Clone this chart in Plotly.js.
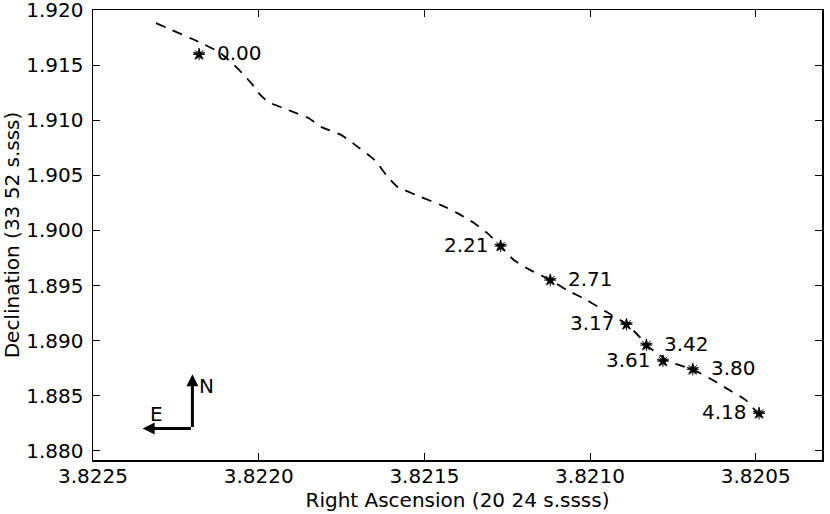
<!DOCTYPE html>
<html>
<head>
<meta charset="utf-8">
<script src="https://cdn.plot.ly/plotly-3.0.1.min.js"></script>
<style>
  html, body { margin: 0; padding: 0; background: #fff; }
  #chart { width: 830px; height: 514px; }
</style>
</head>
<body>
<div id="chart"></div>
<script>
// Observed positions (RA seconds, Dec seconds) and labels (time offsets)
const raPoints  = [3.82218, 3.82127, 3.82112, 3.82089, 3.82083, 3.82078, 3.82069, 3.82049];
const decPoints = [1.91598, 1.89858, 1.89549, 1.89147, 1.88959, 1.88814, 1.88739, 1.88339];
const pointLabels = ["0.00", "2.21", "2.71", "3.17", "3.42", "3.61", "3.80", "4.18"];
const labelSide   = ["right", "left", "right", "left", "right", "left", "right", "left"];

// Predicted track (dashed line)
const raTrack  = [3.82231, 3.82218, 3.82212, 3.82208, 3.82205, 3.82202, 3.82200, 3.82197, 3.82191, 3.82185,
                  3.82181, 3.82175, 3.82170, 3.82165, 3.82161, 3.82158, 3.82156, 3.82151, 3.82145, 3.82140,
                  3.82135, 3.82131, 3.82127, 3.82123, 3.82118, 3.82112, 3.82107, 3.82101, 3.82095, 3.82089,
                  3.82085, 3.82083, 3.82079, 3.82076, 3.82073, 3.82068, 3.82063, 3.82058, 3.82053, 3.82049, 3.82048];
const decTrack = [1.91882, 1.91710, 1.91619, 1.91519, 1.91428, 1.91328, 1.91247, 1.91165, 1.91092, 1.91020,
                  1.90938, 1.90865, 1.90756, 1.90638, 1.90484, 1.90393, 1.90366, 1.90303, 1.90230, 1.90157,
                  1.90067, 1.89976, 1.89858, 1.89731, 1.89640, 1.89549, 1.89459, 1.89368, 1.89259, 1.89150,
                  1.89032, 1.88959, 1.88869, 1.88805, 1.88778, 1.88723, 1.88642, 1.88551, 1.88460, 1.88324, 1.88288];

const xTicks = [3.8225, 3.8220, 3.8215, 3.8210, 3.8205];
const yTicks = [1.880, 1.885, 1.890, 1.895, 1.900, 1.905, 1.910, 1.915, 1.920];

// Compass (E / N arrows)
const compassCorner = [3.82220, 1.88203];
const compassNorth  = [3.82220, 1.88695];
const compassEast   = [3.82235, 1.88203];

const FONT = "DejaVu Sans, sans-serif";
const FS = 20;

const traces = [
  {
    x: raTrack, y: decTrack, type: "scatter", mode: "lines",
    line: { color: "black", width: 1.8, dash: "10px,8px", shape: "spline", smoothing: 0.6 },
    hoverinfo: "skip"
  },
  {
    x: raPoints, y: decPoints, type: "scatter", mode: "markers",
    marker: { symbol: "star", size: 9, color: "black", line: { color: "black", width: 0.5 } }
  },
  {
    x: raPoints, y: decPoints, type: "scatter", mode: "markers",
    marker: { symbol: "asterisk-open", size: 10, color: "black", line: { color: "black", width: 1 } }
  }
];

const annotations = pointLabels.map((t, i) => ({
  x: raPoints[i], y: decPoints[i], xref: "x", yref: "y",
  text: t, showarrow: false,
  xanchor: labelSide[i] === "right" ? "left" : "right",
  yanchor: "middle",
  xshift: labelSide[i] === "right" ? 16 : -10,
  yshift: 1,
  font: { family: FONT, size: FS, color: "black" }
}));

annotations.push({
  x: compassNorth[0], y: compassNorth[1], ax: compassCorner[0], ay: compassCorner[1],
  xref: "x", yref: "y", axref: "x", ayref: "y", text: "",
  showarrow: true, arrowhead: 2, arrowsize: 0.8, arrowwidth: 3, arrowcolor: "black"
});
annotations.push({
  x: compassEast[0], y: compassEast[1], ax: compassCorner[0], ay: compassCorner[1],
  xref: "x", yref: "y", axref: "x", ayref: "y", text: "",
  showarrow: true, arrowhead: 2, arrowsize: 0.8, arrowwidth: 3, arrowcolor: "black"
});
annotations.push({
  x: compassCorner[0], y: compassNorth[1], xref: "x", yref: "y", text: "N", showarrow: false,
  xanchor: "left", yanchor: "top", xshift: 5, yshift: 2,
  font: { family: FONT, size: FS, color: "black" }
});
annotations.push({
  x: compassEast[0], y: compassCorner[1], xref: "x", yref: "y", text: "E", showarrow: false,
  xanchor: "left", yanchor: "bottom", xshift: 5, yshift: 0,
  font: { family: FONT, size: FS, color: "black" }
});

const axisCommon = {
  showgrid: false, zeroline: false, showline: true, linecolor: "black", linewidth: 1.5,
  mirror: "ticks", ticks: "inside", ticklen: 7, tickwidth: 1, tickcolor: "black",
  ticklabeloverflow: "allow",
  tickfont: { family: FONT, size: FS, color: "black" }
};

const layout = {
  width: 830, height: 514,
  margin: { l: 93, r: 8, t: 10, b: 54, pad: 0 },
  paper_bgcolor: "white", plot_bgcolor: "white",
  showlegend: false,
  xaxis: Object.assign({}, axisCommon, {
    range: [3.8225, 3.8203], tickvals: xTicks, tickformat: ".4f",
    ticklabelstandoff: -3,
    title: { text: "Right Ascension (20 24 s.ssss)", font: { family: FONT, size: FS, color: "black" }, standoff: 0 }
  }),
  yaxis: Object.assign({}, axisCommon, {
    range: [1.87916, 1.92001], tickvals: yTicks, tickformat: ".3f",
    ticklabelstandoff: 4,
    title: { text: "Declination (33 52 s.sss)", font: { family: FONT, size: FS, color: "black" }, standoff: 2 }
  }),
  annotations: annotations
};

Plotly.newPlot("chart", traces, layout, { displayModeBar: false, staticPlot: true });
</script>
</body>
</html>
